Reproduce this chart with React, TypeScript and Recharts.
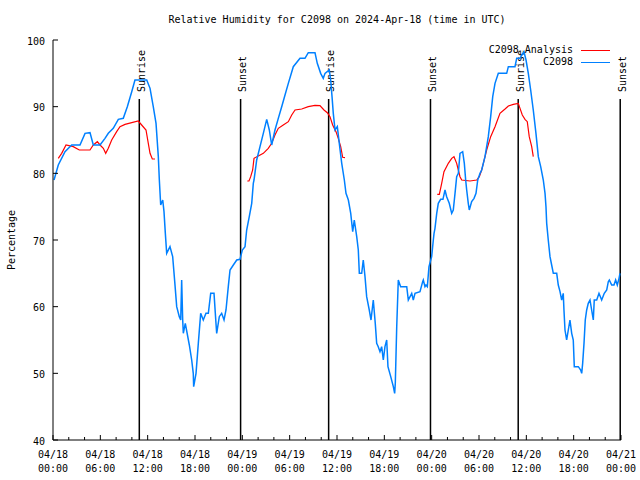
import { LineChart, Line, XAxis, YAxis, ReferenceLine } from 'recharts'

// hours since 04/18 00:00 UTC, relative humidity %
const observed: [number, number][] = [
    [0.13, 79], [0.67, 81.25], [1.52, 83.25], [2.37, 84.25], [3.42, 84.25], [4.06, 86], [4.69, 86.1],
    [5.11, 84.25], [5.96, 84.25], [6.59, 85.25], [7.01, 86], [7.64, 86.75], [8.28, 88.1], [8.91, 88.25],
    [9.42, 90], [9.98, 92.25], [10.39, 94], [11.88, 94], [12.3, 92.75], [12.71, 90], [13.06, 87.5],
    [13.35, 82.5], [13.48, 79], [13.65, 75.25], [13.91, 76], [14.07, 74.25], [14.24, 71], [14.41, 68],
    [14.83, 69], [15.17, 67.5], [15.43, 63.75], [15.68, 60], [16.01, 58.5], [16.19, 58], [16.31, 64],
    [16.44, 58], [16.52, 56], [16.77, 57.5], [17.28, 54.25], [17.58, 52], [17.78, 50], [17.83, 48],
    [18.13, 50], [18.42, 54.5], [18.72, 59], [19.05, 58], [19.39, 59], [19.69, 59], [19.99, 62],
    [20.41, 62], [20.66, 57.5], [20.75, 56], [21.08, 58.5], [21.38, 59], [21.68, 58], [21.93, 59.5],
    [22.22, 63], [22.44, 65.5], [22.86, 66.25], [23.29, 67], [23.7, 67.1], [24.0, 68.5], [24.34, 69],
    [24.55, 71.5], [24.88, 73.5], [25.19, 75.5], [25.39, 78.5], [25.48, 79], [25.82, 82], [26.24, 84],
    [26.66, 86], [27.09, 88.1], [27.42, 86.5], [27.72, 84.25], [28.14, 86.5], [28.56, 88.25], [28.99, 90],
    [29.41, 91.75], [29.83, 93.5], [30.46, 96], [31.31, 97.25], [31.94, 97.25], [32.36, 98.1], [33.21, 98.1],
    [33.5, 96.5], [33.93, 95], [34.26, 94.25], [34.48, 95], [35.02, 95.5], [35.2, 94], [35.37, 91.5],
    [35.53, 89], [35.75, 86.5], [36.04, 87], [36.29, 84.5], [36.6, 81.5], [36.93, 79], [37.14, 77],
    [37.44, 76], [37.74, 74], [37.99, 71.25], [38.19, 73], [38.5, 70.5], [38.7, 68.5], [38.83, 65],
    [39.13, 65], [39.33, 67], [39.55, 64.5], [39.76, 61.5], [40.09, 59.5], [40.31, 58], [40.6, 61],
    [40.85, 57.5], [41.03, 54.5], [41.23, 54], [41.45, 53.25], [41.66, 54], [41.87, 52], [42.08, 54],
    [42.3, 55], [42.46, 51], [42.81, 49.5], [43.14, 48], [43.31, 47], [43.39, 48.5], [43.57, 57],
    [43.77, 64], [44.07, 63], [44.84, 63], [45.04, 61], [45.47, 62], [45.67, 61], [45.89, 62],
    [46.52, 62.25], [46.86, 63.75], [46.94, 64], [47.15, 63], [47.28, 63.25], [47.45, 63], [47.66, 66],
    [48.0, 67.5], [48.21, 70], [48.3, 71], [48.42, 71.75], [48.64, 74], [48.84, 75.5], [49.14, 76.1],
    [49.43, 76.1], [49.69, 77.5], [49.9, 76.5], [50.23, 75.5], [50.54, 74], [50.74, 74.5], [50.96, 77],
    [51.17, 79.5], [51.38, 80], [51.59, 83], [51.93, 83.25], [52.14, 81.5], [52.31, 79], [52.44, 77.5],
    [52.64, 75.5], [52.77, 74.5], [53.07, 75.75], [53.37, 76.25], [53.62, 77], [53.84, 79], [54.13, 80],
    [54.34, 80.5], [54.76, 82.5], [55.18, 85.5], [55.48, 88.5], [55.74, 91.5], [56.03, 93.5], [56.45, 95],
    [57.51, 95], [57.72, 96], [58.56, 96], [58.78, 97.25], [59.2, 97.25], [59.54, 98], [59.7, 98.25],
    [59.96, 97], [60.25, 95], [60.55, 92.5], [60.88, 89.5], [61.22, 86], [61.52, 82.5], [61.82, 81],
    [62.15, 79], [62.37, 77], [62.49, 75], [62.58, 72.5], [62.78, 70], [63.0, 67.5], [63.21, 66.25],
    [63.42, 65], [63.85, 65], [64.05, 63.25], [64.27, 62.25], [64.48, 61], [64.68, 62], [64.77, 59.5],
    [64.9, 56.5], [65.11, 55], [65.32, 56.5], [65.53, 58], [65.75, 56], [65.95, 55], [66.08, 51],
    [66.59, 51], [66.89, 50.5], [67.02, 50], [67.14, 51.5], [67.31, 54.5], [67.47, 58], [67.65, 59.5],
    [67.85, 60.5], [68.07, 61], [68.28, 59.5], [68.49, 58], [68.61, 61], [68.92, 61], [69.21, 62],
    [69.55, 61], [69.88, 62], [70.19, 62.5], [70.39, 63.75], [70.52, 64], [70.82, 63.25], [71.11, 63.25],
    [71.32, 64], [71.53, 63.25], [71.75, 64.25], [71.87, 65],
]

const analysisDay1: [number, number][] = [
    [0.67, 82.25], [1.1, 83], [1.65, 84.25], [2.57, 84], [3.33, 83.5], [4.69, 83.5], [5.11, 84.25],
    [5.62, 84.75], [5.96, 84.25], [6.38, 83.75], [6.68, 83], [7.01, 83.75], [7.44, 85], [8.07, 86.25],
    [8.49, 87], [9.13, 87.35], [9.98, 87.6], [10.81, 87.85], [11.24, 87.25], [11.79, 86.5], [12.08, 84.5],
    [12.3, 83], [12.59, 82.15], [12.93, 82.15],
]

const analysisDay2: [number, number][] = [
    [24.63, 78.85], [24.84, 78.85], [25.06, 79.5], [25.31, 80.5], [25.48, 82.25], [26.02, 82.6],
    [26.66, 83], [27.29, 83.75], [27.72, 84.5], [28.14, 85.75], [28.56, 86.75], [29.19, 87.25],
    [29.83, 87.75], [30.26, 88.75], [30.68, 89.5], [31.53, 89.65], [32.36, 90], [33.21, 90.2],
    [33.84, 90.15], [34.35, 89.5], [34.77, 89.1], [35.11, 88.5], [35.45, 87.25], [35.87, 86.25],
    [36.16, 85.25], [36.47, 84], [36.72, 82.4], [37.01, 82.35],
]

const analysisDay3: [number, number][] = [
    [48.71, 76.85], [48.97, 76.85], [49.27, 78.5], [49.56, 80.25], [50.11, 81.5], [50.54, 82.25],
    [50.83, 82.5], [51.17, 81.5], [51.38, 80.5], [51.59, 79.5], [51.81, 79], [52.86, 78.85],
    [53.71, 79], [54.04, 79.5], [54.34, 80.5], [54.55, 81.5], [54.97, 83.5], [55.48, 85.5],
    [56.03, 87], [56.66, 89], [57.3, 89.65], [57.72, 90.1], [58.35, 90.35], [58.98, 90.5],
    [59.2, 89.75], [59.49, 88.75], [59.83, 88.1], [60.12, 87.75], [60.37, 85.5], [60.68, 84], [60.88, 82.5],
]

const sunriseHours = [10.94, 34.94, 58.97]
const sunsetHours = [23.78, 47.85, 71.9]

const xTickHours = [0, 2, 4, 6, 8, 10, 12, 14, 16, 18, 20, 22, 24, 26, 28, 30, 32, 34, 36,
    38, 40, 42, 44, 46, 48, 50, 52, 54, 56, 58, 60, 62, 64, 66, 68, 70, 72]
const xDateLabels = ['04/18', '04/18', '04/18', '04/18', '04/19', '04/19', '04/19', '04/19',
    '04/20', '04/20', '04/20', '04/20', '04/21']
const xTimeLabels = ['00:00', '06:00', '12:00', '18:00', '00:00', '06:00', '12:00', '18:00',
    '00:00', '06:00', '12:00', '18:00', '00:00']
const yTicks = [40, 50, 60, 70, 80, 90, 100]

const legendItems = [
    { name: 'C2098 Analysis', color: '#ff0000' },
    { name: 'C2098', color: '#0080ff' },
]

const FONT = '"DejaVu Sans Mono", "Liberation Mono", monospace'
const toPoints = (arr: [number, number][]) => arr.map(([h, v]) => ({ h, v }))

function BottomTick({ x, y, payload }: any) {
    const major = payload.value % 6 === 0
    const i = payload.value / 6
    return (
        <g>
            <line x1={x} y1={y} x2={x} y2={y - (major ? 5 : 3)} stroke="#000" />
            {major && (
                <text x={x} y={y + 14} textAnchor="middle" dominantBaseline="central" fontSize={10} fontFamily={FONT} fill="#000">
                    {xDateLabels[i]}
                </text>
            )}
            {major && (
                <text x={x} y={y + 28} textAnchor="middle" dominantBaseline="central" fontSize={10} fontFamily={FONT} fill="#000">
                    {xTimeLabels[i]}
                </text>
            )}
        </g>
    )
}

function TopTick({ x, y, payload }: any) {
    const major = payload.value % 6 === 0
    return <line x1={x} y1={y} x2={x} y2={y + (major ? 5 : 3)} stroke="#000" />
}

function LeftTick({ x, y, payload }: any) {
    return (
        <g>
            <line x1={x} y1={y} x2={x + 5} y2={y} stroke="#000" />
            <text x={x - 8} y={y + 1} textAnchor="end" dominantBaseline="central" fontSize={10} fontFamily={FONT} fill="#000">
                {payload.value}
            </text>
        </g>
    )
}

function RightTick({ x, y }: any) {
    return <line x1={x} y1={y} x2={x - 5} y2={y} stroke="#000" />
}

function sunLabel(text: string) {
    return (props: any) => {
        const { x, y } = props.viewBox
        const tx = x + 5.5
        const ty = y - 7
        return (
            <text x={tx} y={ty} transform={`rotate(-90 ${tx} ${ty})`} textAnchor="start" fontSize={10} fontFamily={FONT} fill="#000">
                {text}
            </text>
        )
    }
}

export default function App() {
    return (
        <div style={{ position: 'absolute', left: 0, top: 0, width: 640, height: 480, background: '#fff', fontFamily: FONT }}>
            <div style={{ position: 'absolute', left: 53, top: 13, width: 568, textAlign: 'center', fontSize: 10, lineHeight: '14px', color: '#000' }}>
                Relative Humidity for C2098 on 2024-Apr-18 (time in UTC)
            </div>
            <LineChart width={640} height={480} margin={{ top: 40, right: 19, bottom: 0, left: 0 }}>
                <XAxis
                    dataKey="h"
                    type="number"
                    domain={[0, 72]}
                    ticks={xTickHours}
                    interval={0}
                    allowDataOverflow
                    height={40}
                    tickSize={0}
                    tickMargin={0}
                    axisLine={{ stroke: '#000' }}
                    tick={<BottomTick />}
                />
                <XAxis
                    xAxisId="top"
                    orientation="top"
                    dataKey="h"
                    type="number"
                    domain={[0, 72]}
                    ticks={xTickHours}
                    interval={0}
                    allowDataOverflow
                    height={0}
                    tickSize={0}
                    tickMargin={0}
                    axisLine={{ stroke: '#000' }}
                    tick={<TopTick />}
                />
                <YAxis
                    type="number"
                    domain={[40, 100]}
                    ticks={yTicks}
                    interval={0}
                    allowDataOverflow
                    width={53}
                    tickSize={0}
                    tickMargin={0}
                    axisLine={{ stroke: '#000' }}
                    tick={<LeftTick />}
                    label={(props: any) => {
                        const cy = props.viewBox.y + props.viewBox.height / 2
                        return (
                            <text x={11} y={cy} transform={`rotate(-90 11 ${cy})`} textAnchor="middle" dominantBaseline="central" fontSize={10} fontFamily={FONT} fill="#000">
                                Percentage
                            </text>
                        )
                    }}
                />
                <YAxis
                    yAxisId="right"
                    orientation="right"
                    type="number"
                    domain={[40, 100]}
                    ticks={yTicks}
                    interval={0}
                    allowDataOverflow
                    width={0}
                    tickSize={0}
                    tickMargin={0}
                    axisLine={{ stroke: '#000' }}
                    tick={<RightTick />}
                />
                {sunriseHours.map((h) => (
                    <ReferenceLine key={`r${h}`} segment={[{ x: h, y: 40 }, { x: h, y: 91.15 }]} stroke="#000" strokeWidth={1.5} label={sunLabel('Sunrise')} />
                ))}
                {sunsetHours.map((h) => (
                    <ReferenceLine key={`s${h}`} segment={[{ x: h, y: 40 }, { x: h, y: 91.15 }]} stroke="#000" strokeWidth={1.5} label={sunLabel('Sunset')} />
                ))}
                {[analysisDay1, analysisDay2, analysisDay3].map((seg, i) => (
                    <Line
                        key={i}
                        data={toPoints(seg)}
                        dataKey="v"
                        type="linear"
                        stroke="#ff0000"
                        strokeWidth={1.2}
                        dot={false}
                        activeDot={false}
                        isAnimationActive={false}
                    />
                ))}
                <Line
                    data={toPoints(observed)}
                    dataKey="v"
                    type="linear"
                    stroke="#0080ff"
                    strokeWidth={1.5}
                    dot={false}
                    activeDot={false}
                    isAnimationActive={false}
                />
            </LineChart>
            <div style={{ position: 'absolute', left: 460, top: 44, width: 150, fontSize: 10, color: '#000' }}>
                {legendItems.map((it) => (
                    <div key={it.name} style={{ display: 'flex', alignItems: 'center', height: 12 }}>
                        <span style={{ flex: 1, textAlign: 'right', lineHeight: '12px', whiteSpace: 'nowrap' }}>{it.name}</span>
                        <span style={{ width: 29, marginLeft: 8, borderTop: `1.5px solid ${it.color}` }} />
                    </div>
                ))}
            </div>
        </div>
    )
}
